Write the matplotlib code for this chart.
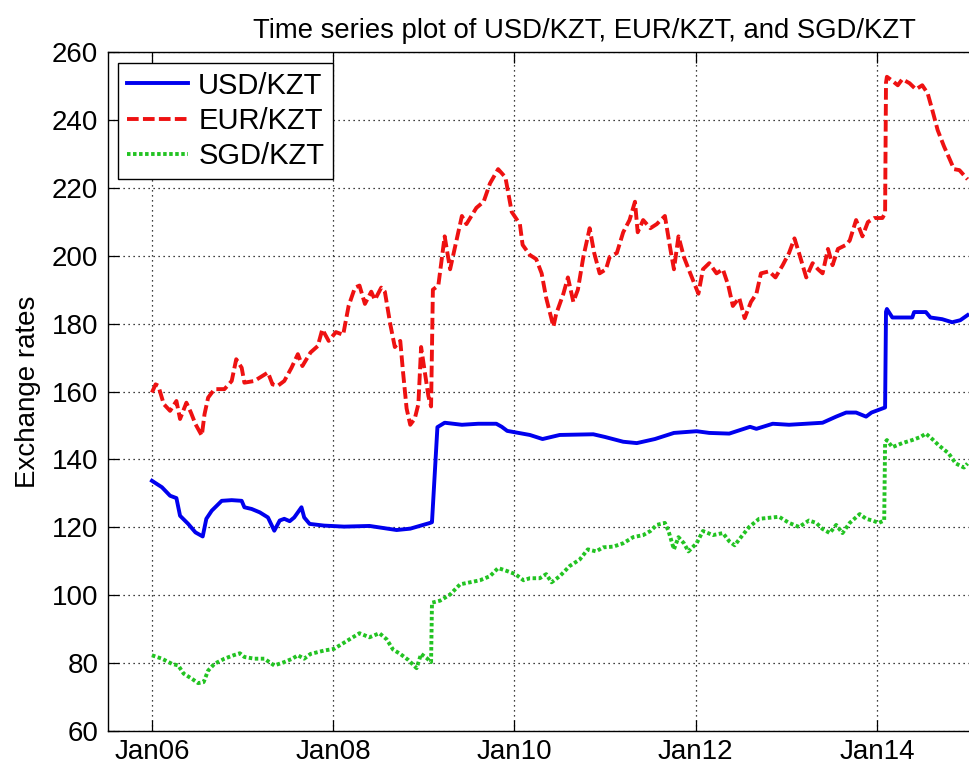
import matplotlib
matplotlib.use("Agg")
import matplotlib.pyplot as plt
import numpy as np

# decimal-year positions and values
usd_t = [2006.00, 2006.11, 2006.20, 2006.27, 2006.31, 2006.40, 2006.48, 2006.56, 2006.60, 2006.66,
         2006.77, 2006.88, 2006.99, 2007.02, 2007.10, 2007.19, 2007.28, 2007.35, 2007.41, 2007.46,
         2007.52, 2007.57, 2007.65, 2007.68, 2007.74, 2007.90, 2008.12, 2008.40, 2008.70, 2008.85,
         2009.07, 2009.09, 2009.15, 2009.23, 2009.42, 2009.60, 2009.80, 2009.86, 2009.92, 2010.17,
         2010.31, 2010.50, 2010.87, 2011.00, 2011.20, 2011.35, 2011.55, 2011.76, 2012.01, 2012.15,
         2012.37, 2012.60, 2012.67, 2012.85, 2013.03, 2013.40, 2013.55, 2013.66, 2013.77, 2013.88,
         2013.94, 2014.06, 2014.09, 2014.10, 2014.11, 2014.17, 2014.39, 2014.41, 2014.54, 2014.59,
         2014.72, 2014.83, 2014.92, 2015.00]
usd_v = [133.7, 131.8, 129.3, 128.6, 123.4, 121.0, 118.5, 117.3, 122.5, 124.9,
         127.8, 128.0, 127.8, 125.9, 125.4, 124.4, 122.9, 119.0, 122.0, 122.5,
         121.8, 122.9, 125.9, 122.9, 121.0, 120.5, 120.2, 120.4, 119.2, 119.6,
         121.3, 121.5, 149.5, 150.8, 150.2, 150.5, 150.5, 149.6, 148.4, 147.2,
         146.0, 147.2, 147.4, 146.6, 145.2, 144.8, 146.0, 147.8, 148.3, 147.8,
         147.6, 149.6, 149.0, 150.5, 150.2, 150.8, 152.6, 153.8, 153.8, 152.6,
         153.8, 155.0, 155.3, 183.5, 184.3, 181.8, 181.8, 183.4, 183.4, 181.8,
         181.3, 180.4, 181.0, 182.5]

eur_t = [2006.00, 2006.04, 2006.07, 2006.13, 2006.20, 2006.27, 2006.31, 2006.38, 2006.43, 2006.48,
         2006.55, 2006.58, 2006.62, 2006.69, 2006.80, 2006.88, 2006.93, 2006.99, 2007.02, 2007.13,
         2007.28, 2007.33, 2007.39, 2007.46, 2007.54, 2007.61, 2007.66, 2007.75, 2007.83, 2007.88,
         2007.95, 2008.03, 2008.11, 2008.17, 2008.24, 2008.29, 2008.35, 2008.42, 2008.46, 2008.53,
         2008.57, 2008.63, 2008.68, 2008.74, 2008.77, 2008.81, 2008.85, 2008.90, 2008.94, 2008.97,
         2009.01, 2009.05, 2009.08, 2009.10, 2009.16, 2009.20, 2009.23, 2009.29, 2009.34, 2009.42,
         2009.47, 2009.58, 2009.66, 2009.73, 2009.82, 2009.90, 2009.97, 2010.06, 2010.09, 2010.17,
         2010.24, 2010.30, 2010.35, 2010.43, 2010.46, 2010.54, 2010.59, 2010.65, 2010.70, 2010.76,
         2010.83, 2010.88, 2010.94, 2011.01, 2011.05, 2011.13, 2011.20, 2011.27, 2011.33, 2011.36,
         2011.42, 2011.50, 2011.57, 2011.66, 2011.72, 2011.76, 2011.81, 2011.87, 2011.94, 2012.03,
         2012.08, 2012.15, 2012.23, 2012.30, 2012.36, 2012.41, 2012.48, 2012.54, 2012.61, 2012.67,
         2012.72, 2012.81, 2012.88, 2012.96, 2013.03, 2013.09, 2013.14, 2013.22, 2013.29, 2013.35,
         2013.40, 2013.46, 2013.51, 2013.57, 2013.66, 2013.70, 2013.77, 2013.84, 2013.90, 2013.97,
         2014.06, 2014.09, 2014.10, 2014.11, 2014.17, 2014.23, 2014.28, 2014.36, 2014.43, 2014.50,
         2014.56, 2014.61, 2014.67, 2014.74, 2014.80, 2014.85, 2014.91, 2014.96, 2015.00]
eur_v = [159.7, 162.1, 161.7, 156.3, 154.3, 157.2, 151.9, 156.7, 153.8, 150.4,
         147.0, 153.3, 158.2, 160.7, 160.7, 163.1, 169.5, 167.0, 162.6, 163.1,
         165.6, 162.1, 161.7, 163.1, 167.0, 171.0, 167.5, 171.5, 173.4, 178.3,
         174.9, 177.5, 176.7, 185.2, 190.6, 191.2, 185.8, 189.4, 187.0, 190.6,
         189.4, 179.8, 173.1, 174.9, 165.9, 155.0, 150.2, 152.0, 156.3, 173.1,
         165.9, 158.7, 155.6, 190.0, 191.2, 199.6, 205.7, 196.0, 202.0, 211.7,
         209.3, 214.1, 215.9, 221.3, 225.5, 223.1, 212.9, 209.3, 203.2, 200.2,
         199.0, 194.8, 187.6, 179.1, 182.8, 188.8, 193.6, 186.4, 190.0, 199.6,
         208.1, 200.8, 194.8, 196.0, 199.6, 200.8, 206.9, 210.5, 215.9, 206.9,
         210.5, 208.1, 209.3, 211.7, 202.0, 196.0, 205.7, 199.6, 194.8, 188.8,
         196.0, 197.8, 194.8, 196.0, 191.2, 185.2, 187.6, 181.6, 186.4, 188.8,
         194.8, 195.4, 193.6, 197.2, 200.8, 205.1, 200.8, 193.6, 197.8, 196.0,
         194.8, 202.0, 197.2, 202.0, 203.2, 204.5, 210.5, 205.7, 209.9, 211.1,
         211.1, 212.5, 251.0, 252.7, 251.5, 250.2, 252.0, 250.8, 249.0, 250.2,
         247.8, 243.0, 237.0, 232.2, 228.6, 225.5, 225.2, 223.7, 222.5]

sgd_t = [2006.00, 2006.11, 2006.22, 2006.29, 2006.35, 2006.44, 2006.51, 2006.57, 2006.62, 2006.69,
         2006.80, 2006.90, 2006.97, 2007.02, 2007.13, 2007.24, 2007.35, 2007.46, 2007.55, 2007.61,
         2007.68, 2007.75, 2007.90, 2008.01, 2008.07, 2008.18, 2008.29, 2008.40, 2008.51, 2008.59,
         2008.66, 2008.74, 2008.83, 2008.92, 2008.97, 2009.03, 2009.08, 2009.09, 2009.18, 2009.29,
         2009.40, 2009.51, 2009.62, 2009.73, 2009.82, 2009.92, 2010.01, 2010.10, 2010.17, 2010.28,
         2010.35, 2010.41, 2010.50, 2010.61, 2010.72, 2010.81, 2010.90, 2010.98, 2011.09, 2011.20,
         2011.31, 2011.42, 2011.50, 2011.57, 2011.66, 2011.70, 2011.76, 2011.81, 2011.87, 2011.92,
         2012.01, 2012.08, 2012.19, 2012.30, 2012.37, 2012.43, 2012.50, 2012.59, 2012.70, 2012.81,
         2012.92, 2013.03, 2013.14, 2013.25, 2013.33, 2013.40, 2013.48, 2013.55, 2013.62, 2013.70,
         2013.81, 2013.88, 2013.95, 2014.02, 2014.08, 2014.09, 2014.11, 2014.17, 2014.28, 2014.39,
         2014.48, 2014.54, 2014.61, 2014.68, 2014.79, 2014.87, 2014.96, 2015.00]
sgd_v = [82.3, 81.3, 79.8, 79.3, 76.9, 75.4, 74.1, 74.4, 77.8, 79.8,
         81.3, 82.3, 82.9, 81.8, 81.3, 81.3, 79.3, 80.3, 81.3, 82.3,
         81.3, 82.7, 83.7, 84.2, 85.2, 87.0, 88.8, 87.6, 88.8, 87.0,
         84.0, 82.7, 80.9, 78.5, 82.7, 81.5, 80.3, 97.8, 98.4, 100.2,
         103.2, 103.8, 104.4, 105.6, 108.0, 107.1, 106.2, 104.4, 105.0, 105.0,
         106.2, 103.8, 105.6, 108.6, 110.5, 113.5, 112.9, 114.1, 114.3, 115.3,
         117.1, 117.7, 118.9, 120.7, 121.3, 118.9, 113.5, 117.1, 115.3, 112.9,
         115.3, 118.9, 117.7, 118.3, 115.9, 114.7, 117.1, 120.1, 122.5, 122.8,
         123.1, 121.3, 120.1, 122.0, 121.3, 119.5, 118.3, 120.7, 118.3, 121.3,
         123.9, 122.5, 122.0, 121.3, 122.0, 145.0, 145.7, 143.6, 144.8, 145.7,
         146.6, 147.6, 146.0, 144.2, 141.8, 138.8, 137.6, 138.8]

series_labels = ["USD/KZT", "EUR/KZT", "SGD/KZT"]
year_ticks = [2006, 2008, 2010, 2012, 2014]
year_labels = ["Jan06", "Jan08", "Jan10", "Jan12", "Jan14"]
y_ticks = [60, 80, 100, 120, 140, 160, 180, 200, 220, 240, 260]

plt.rcParams['font.family'] = ['Liberation Sans', 'DejaVu Sans']

fig = plt.figure(figsize=(9.69, 7.73), dpi=100)
# the original axes runs past the right edge of the picture (it was cropped)
ax = fig.add_axes([108 / 969, 1 - 731 / 773, (1060 - 108) / 969, (731 - 52) / 773])

ax.plot(usd_t, usd_v, color='#0000ee', lw=2.8, label=series_labels[0])
ax.plot(eur_t, eur_v, color='#ee1111', lw=2.8, linestyle=(0, (3.0, 1.1)), label=series_labels[1])
ax.plot(sgd_t, sgd_v, color='#22c322', lw=2.8, linestyle=(0, (0.9, 0.65)), label=series_labels[2])

ax.set_xlim(2005.515, 2016.02)
ax.set_ylim(60, 260)
ax.set_xticks(year_ticks)
ax.set_xticklabels(year_labels)
ax.set_yticks(y_ticks)

ax.grid(True, color='black', linestyle=(0, (1, 3)), linewidth=0.9)
ax.tick_params(direction='in', length=8, width=0.9, top=True, right=True, labelsize=20)
ax.tick_params(axis='y', pad=7)
ax.tick_params(axis='x', pad=6)
for s in ax.spines.values():
    s.set_linewidth(1.0)

ax.set_ylabel("Exchange rates", fontsize=20, labelpad=8)
ax.set_title("Time series plot of USD/KZT, EUR/KZT, and SGD/KZT", fontsize=19.8, pad=10)

leg = ax.legend(loc='upper left', bbox_to_anchor=(0.0105, 0.984), fontsize=21,
                fancybox=False, framealpha=1, edgecolor='black', handlelength=2.1,
                handletextpad=0.35, labelspacing=0.25, borderpad=0.3, borderaxespad=0)
leg.get_frame().set_linewidth(1.0)

fig.savefig("out.png", dpi=100)
